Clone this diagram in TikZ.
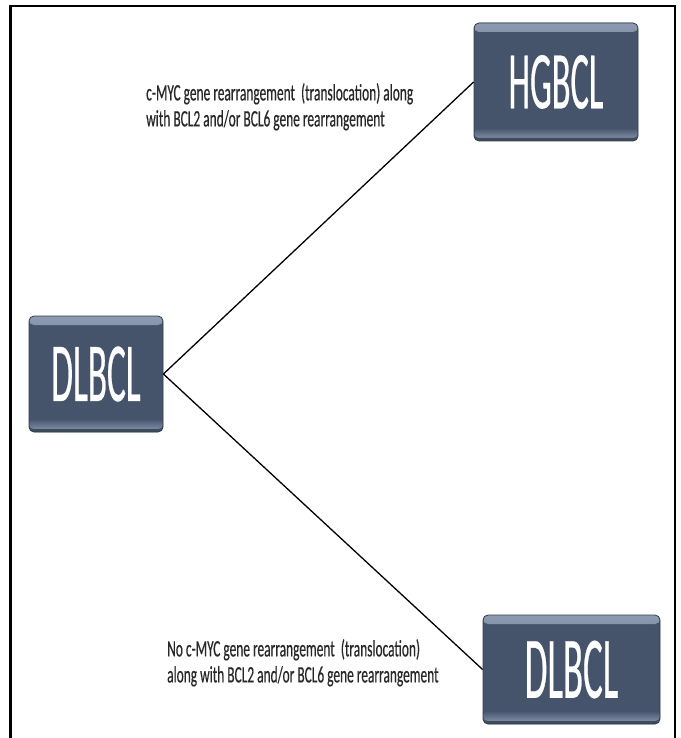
\documentclass[tikz,border=0pt]{standalone}
\usepackage{fontspec}
\setmainfont{Carlito}
\newfontfamily\labelfont[FakeStretch=0.57,FakeBold=0.4]{Carlito}
\newfontfamily\boxfont[FakeStretch=0.42,FakeBold=0.3]{Carlito}
\definecolor{boxmain}{RGB}{70,84,107}
\definecolor{boxhi}{RGB}{140,154,178}
\definecolor{boxlow}{RGB}{125,140,165}
\definecolor{boxedge}{RGB}{52,62,80}
\definecolor{labelcol}{RGB}{40,40,40}
\tikzset{
  tbox/.style={rectangle, rounded corners=5pt, fill=boxmain, draw=boxedge, line width=0.8pt,
    text=white, inner sep=0pt,
    path picture={
      \fill[top color=boxhi, bottom color=boxmain]
        (path picture bounding box.north west) rectangle ([yshift=-9pt]path picture bounding box.north east);
      \fill[top color=boxmain, bottom color=boxlow]
        ([yshift=13pt]path picture bounding box.south west) rectangle ([yshift=3pt]path picture bounding box.south east);
      \fill[boxedge!85!boxlow]
        ([yshift=3pt]path picture bounding box.south west) rectangle (path picture bounding box.south east);
    }},
  lbl/.style={anchor=north west, align=left, inner sep=0pt, text=labelcol,
    font=\labelfont\fontsize{23.5}{26}\selectfont},
  conn/.style={draw=black, line width=1.3pt}
}
\begin{document}
\begin{tikzpicture}[x=1pt, y=-1pt]
\useasboundingbox (0,0) rectangle (680,738);
\fill[white] (0,0) rectangle (680,738);
% frame
\draw[line width=2.3pt] (10.5,738) -- (10.5,6) -- (675,6) -- (675,738);
% boxes
\node[tbox, minimum width=164pt, minimum height=118pt, font=\boxfont\fontsize{82}{82}\selectfont] (hg) at (556,82) {HGBCL};
\node[tbox, minimum width=134pt, minimum height=116pt, font=\boxfont\fontsize{84}{84}\selectfont] (dl) at (96,374) {DLBCL};
\node[tbox, minimum width=177pt, minimum height=109pt, font=\boxfont\fontsize{88}{88}\selectfont] (dl2) at (571.5,669.5) {DLBCL};
% connectors
\draw[conn] (dl.east) -- (hg.west);
\draw[conn] (dl.east) -- (dl2.west);
% labels
\node[lbl] (t1) at (146,83) {c-MYC gene rearrangement\ \ (translocation) along\\with BCL2 and/or BCL6 gene rearrangement};
\node[lbl] (t2) at (167,639) {No c-MYC gene rearrangement\ \ (translocation)\\along with BCL2 and/or BCL6 gene rearrangement};
\end{tikzpicture}
\end{document}
